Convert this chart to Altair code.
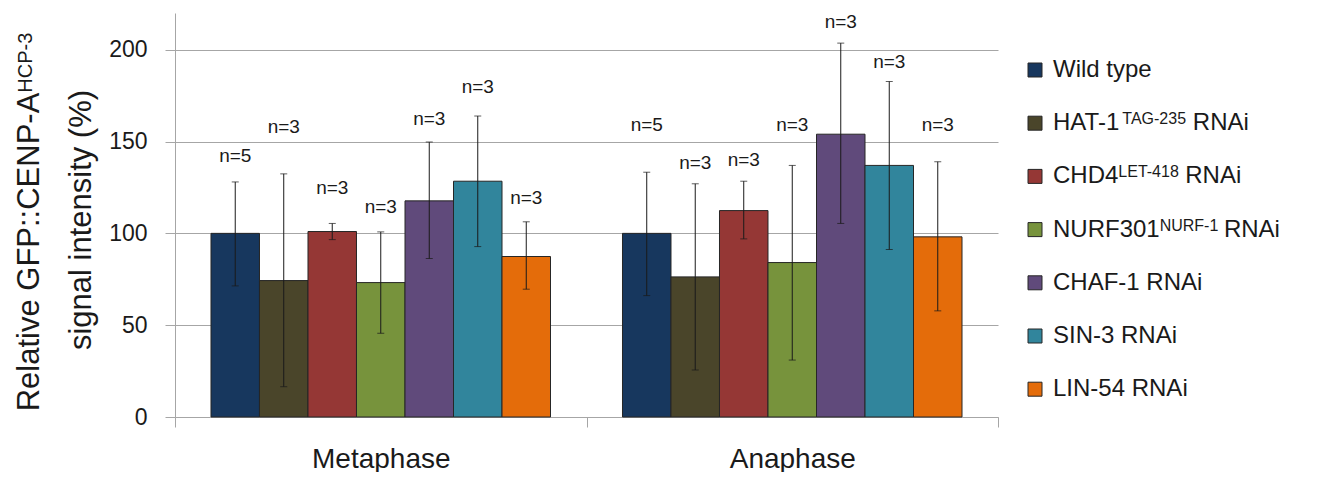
import altair as alt
import pandas as pd

# ---------------- data ----------------
phases = ["Metaphase", "Anaphase"]
series = ["Wild type", "HAT-1 RNAi", "CHD4 RNAi", "NURF301 RNAi",
          "CHAF-1 RNAi", "SIN-3 RNAi", "LIN-54 RNAi"]
colors = ["#17375E", "#4A452A", "#953735", "#77933C", "#604A7B", "#31859C", "#E46C0A"]

meta_mean = [100, 74.3, 101, 73.2, 117.7, 128.4, 87.4]
meta_hi = [128, 132.4, 105.4, 100.8, 149.7, 163.9, 106.3]
meta_lo = [71.4, 16.5, 96.6, 45.6, 86.3, 92.8, 69.6]
ana_mean = [100, 76.3, 112.4, 84.1, 154, 137, 98.1]
ana_hi = [133.3, 127, 128.4, 137, 203.6, 182.7, 139]
ana_lo = [66.1, 25.6, 97, 31, 105.4, 91.2, 57.8]
meta_n = ["n=5", "n=3", "n=3", "n=3", "n=3", "n=3", "n=3"]
ana_n = ["n=5", "n=3", "n=3", "n=3", "n=3", "n=3", "n=3"]
# height (in data units) at which each n= label is printed
meta_label_y = [141.9, 157.9, 124.6, 114.6, 162.3, 179.5, 119.2]
ana_label_y = [159, 138.4, 140, 159, 215, 193.5, 159]

y_ticks = [0, 50, 100, 150, 200]

legend_main = ["Wild type", "HAT-1", "CHD4", "NURF301", "CHAF-1 RNAi", "SIN-3 RNAi", "LIN-54 RNAi"]
legend_sup = ["", "TAG-235", "LET-418", "NURF-1", "", "", ""]
legend_tail = ["", "RNAi", "RNAi", "RNAi", "", "", ""]

title_line1 = "Relative GFP::CENP-A"
title_sup = "HCP-3"
title_line2 = "signal intensity (%)"

# ---------------- layout ----------------
FONT = "Liberation Sans, Arial, sans-serif"
TXT = "#1a1a1a"
GRID = "#a6a6a6"
W, H = 823, 404
FS_LEG, FS_LEG_SUP = 24, 16
FS_TITLE, FS_TITLE_SUP = 31, 20

# Arial / Liberation Sans advance widths (per 1000 em)
AW = {' ': 278, '-': 333, ':': 278, '(': 333, ')': 333, '%': 889, '=': 584,
      'A': 667, 'B': 667, 'C': 722, 'D': 722, 'E': 667, 'F': 611, 'G': 778, 'H': 722,
      'I': 278, 'K': 667, 'L': 556, 'M': 833, 'N': 722, 'O': 778, 'P': 667, 'R': 722,
      'S': 667, 'T': 611, 'U': 722, 'W': 944,
      'a': 556, 'c': 500, 'd': 556, 'e': 556, 'g': 556, 'i': 222, 'l': 222, 'n': 556,
      'p': 556, 's': 500, 't': 278, 'v': 500, 'y': 500}


def tw(s, size):
    return sum(AW.get(c, 556) for c in s) * size / 1000.0


rows = []
for i, s in enumerate(series):
    rows.append(dict(phase="Metaphase", series=s, mean=meta_mean[i], lo=meta_lo[i],
                     hi=meta_hi[i], nlab=meta_n[i], ly=meta_label_y[i]))
for i, s in enumerate(series):
    rows.append(dict(phase="Anaphase", series=s, mean=ana_mean[i], lo=ana_lo[i],
                     hi=ana_hi[i], nlab=ana_n[i], ly=ana_label_y[i]))
df = pd.DataFrame(rows)

yscale = alt.Scale(domain=[0, 220])
yaxis = alt.Axis(title=None, values=y_ticks, grid=True, gridColor=GRID,
                 domainColor=GRID, tickColor=GRID, tickSize=10,
                 labelFont=FONT, labelFontSize=23, labelColor=TXT, labelPadding=18)


def Y(f):
    return alt.Y(f + ":Q", scale=yscale, axis=yaxis, title=None)


base = alt.Chart(df).encode(
    x=alt.X("phase:N", sort=phases, scale=alt.Scale(paddingInner=0, paddingOuter=0),
            axis=alt.Axis(title=None, labelAngle=0, tickBand="extent", tickSize=10,
                          tickColor=GRID, domainColor=GRID, labelFont=FONT,
                          labelFontSize=28, labelColor=TXT, labelPadding=18, grid=False)),
    xOffset=alt.XOffset("series:N", sort=series,
                        scale=alt.Scale(paddingInner=0, paddingOuter=0.742)),
)

bars = base.mark_bar(stroke="#262626", strokeWidth=1).encode(
    y=Y("mean"),
    color=alt.Color("series:N", sort=series,
                    scale=alt.Scale(domain=series, range=colors), legend=None),
)
err = base.mark_rule(color="#1a1a1a", strokeWidth=1).encode(y=Y("lo"), y2="hi:Q")
cap_lo = base.mark_tick(color="#1a1a1a", orient="horizontal", size=7, thickness=1).encode(
    y=Y("lo"))
cap_hi = base.mark_tick(color="#1a1a1a", orient="horizontal", size=7, thickness=1).encode(
    y=Y("hi"))
nlabels = base.mark_text(font=FONT, fontSize=19, color=TXT, baseline="middle").encode(
    y=Y("ly"), text="nlab:N")

main = alt.layer(bars, err, cap_lo, cap_hi, nlabels)

# ---------------- legend & axis title (pixel overlay) ----------------
sym_x, txt_x = 860, 878
row0, gap = 57, 53.2
leg_rows = []
for i, s in enumerate(series):
    y = row0 + i * gap
    sx = txt_x + tw(legend_main[i], FS_LEG)
    tx = sx + tw(legend_sup[i], FS_LEG_SUP) + tw(" ", 20)
    leg_rows.append(dict(series=s, sym_x=sym_x, txt_x=txt_x, sup_x=sx, tail_x=tx, y=y,
                         main=legend_main[i], sup=legend_sup[i], tail=legend_tail[i]))
leg = pd.DataFrame(leg_rows)

px_x = alt.Scale(domain=[0, W], range=[0, W])
px_y = alt.Scale(domain=[0, H], range=[0, H])


def PX(f):
    return alt.X(f + ":Q", scale=px_x, axis=None)


def PY(f):
    return alt.Y(f + ":Q", scale=px_y, axis=None)


lg = alt.Chart(leg)
leg_sym = lg.mark_square(size=196, stroke="#262626", strokeWidth=1, opacity=1).encode(
    x=PX("sym_x"), y=PY("y"),
    color=alt.Color("series:N", sort=series,
                    scale=alt.Scale(domain=series, range=colors), legend=None))
leg_main = lg.mark_text(font=FONT, fontSize=FS_LEG, color=TXT, align="left",
                        baseline="middle").encode(x=PX("txt_x"), y=PY("y"), text="main:N")
leg_sup = lg.mark_text(font=FONT, fontSize=FS_LEG_SUP, color=TXT, align="left",
                       baseline="middle", dy=-4).encode(x=PX("sup_x"), y=PY("y"), text="sup:N")
leg_tail = lg.mark_text(font=FONT, fontSize=FS_LEG, color=TXT, align="left",
                        baseline="middle").encode(x=PX("tail_x"), y=PY("y"), text="tail:N")

center_y = 209
total = tw(title_line1, FS_TITLE) + tw(title_sup, FS_TITLE_SUP)
t1_start = center_y + total / 2
tdf = pd.DataFrame([dict(x1=-136, y1=t1_start, t1=title_line1,
                         xs=-143, ys=t1_start - tw(title_line1, FS_TITLE), ts=title_sup,
                         x2=-84, y2=center_y - 2, t2=title_line2)])
tc = alt.Chart(tdf)
title1 = tc.mark_text(font=FONT, fontSize=FS_TITLE, color=TXT, angle=270, align="left",
                      baseline="alphabetic").encode(x=PX("x1"), y=PY("y1"), text="t1:N")
titles = tc.mark_text(font=FONT, fontSize=FS_TITLE_SUP, color=TXT, angle=270, align="left",
                      baseline="alphabetic").encode(x=PX("xs"), y=PY("ys"), text="ts:N")
title2 = tc.mark_text(font=FONT, fontSize=FS_TITLE, color=TXT, angle=270, align="center",
                      baseline="alphabetic").encode(x=PX("x2"), y=PY("y2"), text="t2:N")

overlay = alt.layer(leg_sym, leg_main, leg_sup, leg_tail, title1, titles, title2)

chart = alt.layer(main, overlay).resolve_scale(
    x="independent", y="independent"
).properties(
    width=W, height=H,
    autosize=alt.AutoSizeParams(type="none"),
    padding={"left": 167, "top": 5, "right": 311, "bottom": 55},
).configure(background="white").configure_view(strokeWidth=0)

chart.save("out.html", embed_options={"renderer": "svg", "actions": False})
